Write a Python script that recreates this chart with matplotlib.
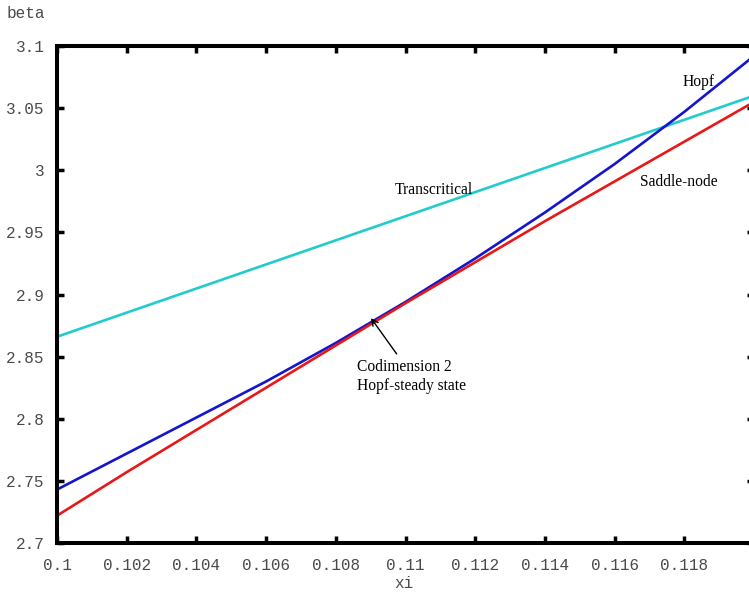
"""
Bifurcation curves in the (xi, beta) plane: Hopf, saddle-node, transcritical.
"""
import matplotlib
matplotlib.use('Agg')
import matplotlib.pyplot as plt

# values
xi = [0.100, 0.102, 0.104, 0.106, 0.108, 0.110, 0.112, 0.114, 0.116, 0.118, 0.120]
beta_hopf = [2.743, 2.772, 2.801, 2.830, 2.861, 2.894, 2.929, 2.966, 3.005, 3.047, 3.092]
beta_saddle = [2.722, 2.757, 2.791, 2.825, 2.859, 2.893, 2.926, 2.959, 2.991, 3.023, 3.055]
xi_trans = [0.100, 0.120]
beta_trans = [2.866, 3.060]

xticks = [0.1, 0.102, 0.104, 0.106, 0.108, 0.11, 0.112, 0.114, 0.116, 0.118]
xtick_labels = ['0.1', '0.102', '0.104', '0.106', '0.108', '0.11', '0.112', '0.114', '0.116', '0.118']
yticks = [2.7, 2.75, 2.8, 2.85, 2.9, 2.95, 3.0, 3.05, 3.1]
ytick_labels = ['2.7', '2.75', '2.8', '2.85', '2.9', '2.95', '3', '3.05', '3.1']

mono = 'Liberation Mono'
serif = 'Liberation Serif'
tick_color = '#4a4a4a'

fig = plt.figure(figsize=(7.49, 5.94), dpi=100)
ax = fig.add_axes([57 / 749, 51 / 594, 697 / 749, 497 / 594])

ax.plot(xi_trans, beta_trans, color='#22cccc', lw=1.9)
ax.plot(xi, beta_hopf, color='#1515cc', lw=1.9)
ax.plot(xi, beta_saddle, color='#e81818', lw=1.9)

ax.set_xlim(0.1, 0.12)
ax.set_ylim(2.7, 3.1)
ax.set_xticks(xticks)
ax.set_xticklabels(xtick_labels)
ax.set_yticks(yticks)
ax.set_yticklabels(ytick_labels)

for s in ax.spines.values():
    s.set_linewidth(2.9)
ax.tick_params(direction='in', length=5, width=2.5, top=True, right=True,
               labelsize=11.5, labelcolor=tick_color)
ax.tick_params(axis='x', pad=11)
ax.tick_params(axis='y', pad=9)
for lab in ax.get_xticklabels() + ax.get_yticklabels():
    lab.set_family(mono)

# curve labels
fs = 11.2
ax.text(0.11842, 3.071, 'Hopf', family=serif, fontsize=fs, ha='center', va='center')
ax.text(0.11784, 2.9905, 'Saddle-node', family=serif, fontsize=fs, ha='center', va='center')
ax.text(0.1108, 2.984, 'Transcritical', family=serif, fontsize=fs, ha='center', va='center')
ax.annotate('Codimension 2\nHopf-steady state', xy=(0.10901, 2.881), xytext=(0.1086, 2.834),
            family=serif, fontsize=fs, ha='left', va='center', linespacing=1.25,
            arrowprops=dict(arrowstyle='->', color='black', lw=1.0, shrinkA=2, shrinkB=0,
                            relpos=(0.4, 1.0)))

fig.text(7 / 749, 1 - 13 / 594, 'beta', family=mono, fontsize=11.5, color=tick_color,
         ha='left', va='center')
fig.text(404 / 749, 1 - 584 / 594, 'xi', family=mono, fontsize=11.5, color=tick_color,
         ha='center', va='center')

fig.savefig('out.png', dpi=100)
